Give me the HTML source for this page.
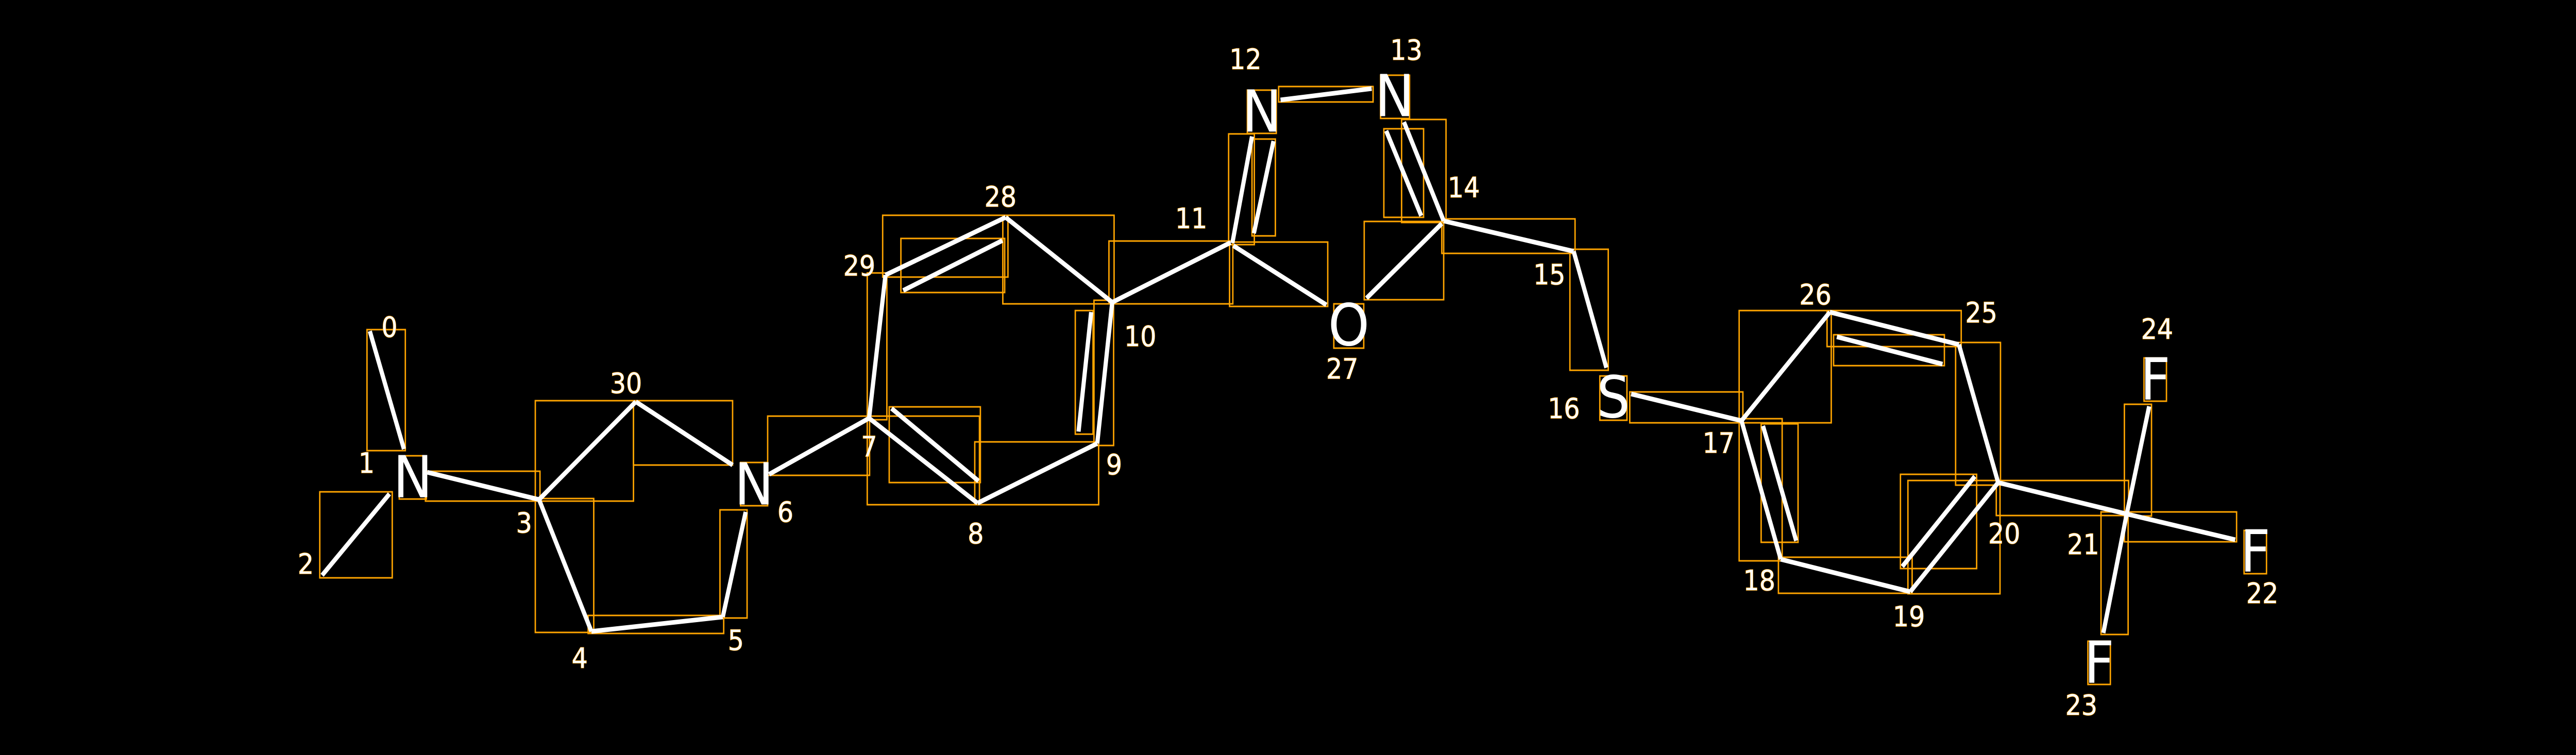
<!DOCTYPE html>
<html><head><meta charset="utf-8"><style>
html,body{margin:0;padding:0;background:#000;width:100%;height:100%;overflow:hidden;}
svg{display:block;position:absolute;left:0;top:0;width:100vw;height:100vh}
.b line{stroke:#fff;stroke-width:9;stroke-linecap:butt}
.o rect{fill:none;stroke:#FFA500;stroke-width:3}
.el{font-family:"DejaVu Sans","Liberation Sans",sans-serif;font-size:112px;fill:#fff;text-anchor:middle;dominant-baseline:central}
.n{font-family:"DejaVu Sans","Liberation Sans",sans-serif;font-size:54px;fill:#fff;text-anchor:middle;dominant-baseline:central;stroke:#FFA500;stroke-width:1.5;paint-order:stroke}
</style></head><body>
<svg viewBox="0 0 5510 1466" preserveAspectRatio="none" xmlns="http://www.w3.org/2000/svg">
<rect width="5510" height="1466" fill="#000"/>
<g class="o">
<rect x="785" y="640" width="82" height="235"/>
<rect x="910" y="915" width="245" height="58"/>
<rect x="684" y="955" width="155" height="167"/>
<rect x="1145" y="778" width="210" height="195"/>
<rect x="1355" y="778" width="212" height="125"/>
<rect x="1145" y="968" width="125" height="260"/>
<rect x="1258" y="1195" width="290" height="35"/>
<rect x="1540" y="990" width="58" height="210"/>
<rect x="1642" y="808" width="218" height="115"/>
<rect x="1855" y="808" width="240" height="172"/>
<rect x="1902" y="790" width="195" height="147"/>
<rect x="2085" y="858" width="265" height="122"/>
<rect x="2340" y="583" width="42" height="282"/>
<rect x="2300" y="603" width="38" height="240"/>
<rect x="2145" y="418" width="238" height="172"/>
<rect x="1888" y="418" width="268" height="120"/>
<rect x="1927" y="463" width="222" height="105"/>
<rect x="1855" y="530" width="42" height="285"/>
<rect x="2372" y="468" width="265" height="122"/>
<rect x="2628" y="260" width="55" height="215"/>
<rect x="2678" y="270" width="50" height="188"/>
<rect x="2735" y="168" width="202" height="30"/>
<rect x="2998" y="232" width="95" height="200"/>
<rect x="2960" y="250" width="85" height="172"/>
<rect x="2918" y="430" width="170" height="152"/>
<rect x="2630" y="470" width="210" height="125"/>
<rect x="3084" y="425" width="285" height="67"/>
<rect x="3358" y="484" width="82" height="235"/>
<rect x="3486" y="761" width="242" height="60"/>
<rect x="3720" y="603" width="197" height="218"/>
<rect x="3908" y="603" width="287" height="70"/>
<rect x="3922" y="650" width="237" height="60"/>
<rect x="4183" y="665" width="96" height="277"/>
<rect x="4081" y="933" width="197" height="220"/>
<rect x="4065" y="921" width="163" height="183"/>
<rect x="3804" y="1082" width="286" height="70"/>
<rect x="3720" y="813" width="92" height="276"/>
<rect x="3767" y="823" width="79" height="230"/>
<rect x="4270" y="933" width="283" height="68"/>
<rect x="4544" y="994" width="240" height="58"/>
<rect x="4544" y="785" width="58" height="217"/>
<rect x="4494" y="994" width="58" height="238"/>
</g>
<g class="b">
<line x1="791" y1="643" x2="864" y2="872"/>
<line x1="914" y1="917" x2="1153" y2="970"/>
<line x1="689" y1="1117" x2="833" y2="959"/>
<line x1="1153" y1="970" x2="1360" y2="780"/>
<line x1="1360" y1="780" x2="1567" y2="903"/>
<line x1="1153" y1="970" x2="1265" y2="1226"/>
<line x1="1265" y1="1226" x2="1546" y2="1198"/>
<line x1="1546" y1="1198" x2="1595" y2="994"/>
<line x1="1645" y1="921" x2="1859" y2="812"/>
<line x1="1859" y1="812" x2="2091" y2="977"/>
<line x1="1907" y1="793" x2="2093" y2="934"/>
<line x1="2091" y1="977" x2="2347" y2="861"/>
<line x1="2347" y1="861" x2="2379" y2="587"/>
<line x1="2334" y1="606" x2="2307" y2="838"/>
<line x1="2379" y1="587" x2="2151" y2="422"/>
<line x1="2151" y1="422" x2="1894" y2="534"/>
<line x1="2144" y1="467" x2="1932" y2="564"/>
<line x1="1894" y1="534" x2="1859" y2="812"/>
<line x1="2379" y1="587" x2="2632" y2="471"/>
<line x1="2636" y1="472" x2="2678" y2="265"/>
<line x1="2724" y1="274" x2="2682" y2="453"/>
<line x1="2739" y1="194" x2="2934" y2="172"/>
<line x1="3003" y1="237" x2="3088" y2="429"/>
<line x1="2965" y1="254" x2="3040" y2="419"/>
<line x1="3084" y1="434" x2="2923" y2="579"/>
<line x1="2638" y1="477" x2="2837" y2="592"/>
<line x1="3088" y1="429" x2="3366" y2="488"/>
<line x1="3366" y1="488" x2="3436" y2="714"/>
<line x1="3489" y1="765" x2="3725" y2="817"/>
<line x1="3725" y1="817" x2="3914" y2="606"/>
<line x1="3914" y1="606" x2="4190" y2="669"/>
<line x1="3929" y1="654" x2="4155" y2="707"/>
<line x1="4190" y1="669" x2="4274" y2="937"/>
<line x1="4274" y1="937" x2="4086" y2="1149"/>
<line x1="4224" y1="925" x2="4069" y2="1100"/>
<line x1="4086" y1="1149" x2="3809" y2="1086"/>
<line x1="3809" y1="1086" x2="3725" y2="817"/>
<line x1="3771" y1="827" x2="3842" y2="1050"/>
<line x1="4274" y1="937" x2="4549" y2="998"/>
<line x1="4549" y1="998" x2="4781" y2="1048"/>
<line x1="4549" y1="998" x2="4597" y2="789"/>
<line x1="4549" y1="998" x2="4499" y2="1229"/>
</g>
<g class="o">
<rect x="854" y="885" width="58" height="84"/>
<rect x="1584" y="898" width="58" height="84"/>
<rect x="2668" y="175" width="62" height="84"/>
<rect x="2953" y="146" width="62" height="84"/>
<rect x="2853" y="590" width="64" height="86"/>
<rect x="3422" y="730" width="58" height="86"/>
<rect x="4586" y="695" width="48" height="84"/>
<rect x="4800" y="1030" width="48" height="84"/>
<rect x="4466" y="1245" width="48" height="84"/>
</g>
<g class="el">
<text x="883" y="928">N</text>
<text x="1613" y="942">N</text>
<text x="2699" y="218">N</text>
<text x="2983" y="188">N</text>
<text x="2885" y="633">O</text>
<text x="3451" y="773">S</text>
<text x="4610" y="738">F</text>
<text x="4824" y="1072">F</text>
<text x="4490" y="1288">F</text>
</g>
<g class="n">
<text x="833" y="636">0</text>
<text x="784" y="900">1</text>
<text x="654" y="1096">2</text>
<text x="1121" y="1016">3</text>
<text x="1240" y="1279">4</text>
<text x="1574" y="1244">5</text>
<text x="1680" y="995">6</text>
<text x="1859" y="868">7</text>
<text x="2087" y="1037">8</text>
<text x="2383" y="903">9</text>
<text x="2439" y="654">10</text>
<text x="2548" y="425">11</text>
<text x="2664" y="116">12</text>
<text x="3008" y="98">13</text>
<text x="3131" y="365">14</text>
<text x="3314" y="534">15</text>
<text x="3345" y="794">16</text>
<text x="3676" y="861">17</text>
<text x="3763" y="1128">18</text>
<text x="4083" y="1198">19</text>
<text x="4287" y="1037">20</text>
<text x="4456" y="1058">21</text>
<text x="4839" y="1153">22</text>
<text x="4452" y="1370">23</text>
<text x="4614" y="640">24</text>
<text x="4238" y="608">25</text>
<text x="3883" y="573">26</text>
<text x="2871" y="717">27</text>
<text x="2140" y="383">28</text>
<text x="1838" y="517">29</text>
<text x="1339" y="745">30</text>
</g>
</svg>
</body></html>
